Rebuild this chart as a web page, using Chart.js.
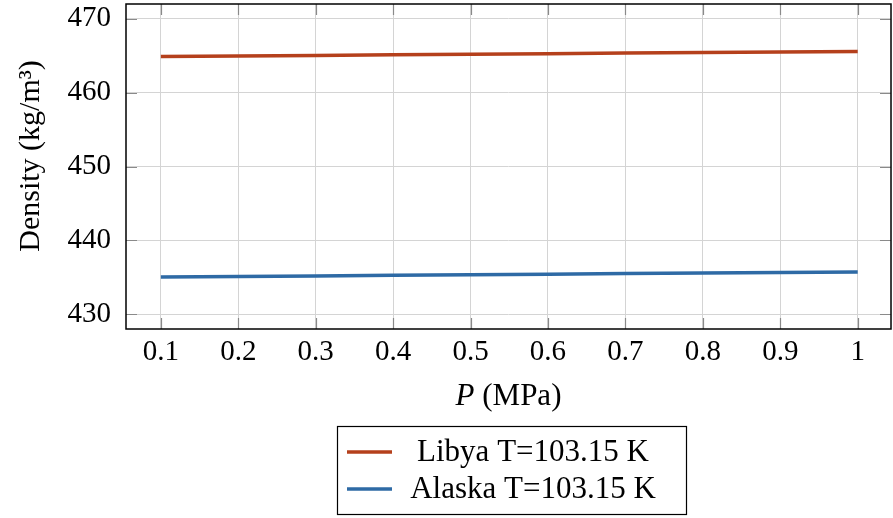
<!DOCTYPE html>
<html>
<head>
<meta charset="utf-8">
<script src="https://cdn.jsdelivr.net/npm/chart.js@4/dist/chart.umd.min.js"></script>
<style>
  html, body { margin: 0; padding: 0; background: #ffffff; }
  #wrap { width: 893px; height: 518px; }
</style>
</head>
<body>
<div id="wrap"><canvas id="densityChart" width="893" height="518"></canvas></div>
<script>
// pressure (MPa) and density readings (kg/m^3)
const pressure = [0.1, 0.2, 0.3, 0.4, 0.5, 0.6, 0.7, 0.8, 0.9, 1.0];
const libyaDensity = [464.90, 464.97, 465.04, 465.12, 465.20, 465.27, 465.35, 465.42, 465.50, 465.57];
const alaskaDensity = [435.05, 435.12, 435.19, 435.27, 435.35, 435.42, 435.50, 435.57, 435.65, 435.73];

const xTicks = [0.1, 0.2, 0.3, 0.4, 0.5, 0.6, 0.7, 0.8, 0.9, 1];
const xTickLabels = ["0.1", "0.2", "0.3", "0.4", "0.5", "0.6", "0.7", "0.8", "0.9", "1"];
const yTicks = [430, 440, 450, 460, 470];
const yTickLabels = ["430", "440", "450", "460", "470"];

const seriesNames = ["Libya T=103.15 K", "Alaska T=103.15 K"];
const seriesColors = ["#b5401c", "#2e6aa5"];

const serif = "'Liberation Serif', 'DejaVu Serif', serif";

function toPoints(xs, ys) {
    return xs.map((x, i) => ({ x: x, y: ys[i] }));
}

// frame, inward tick marks, axis titles and the boxed legend
const decorPlugin = {
    id: 'decor',
    afterDatasetsDraw(chart) {
        const ctx = chart.ctx;
        const area = chart.chartArea;
        const xs = chart.scales.x;
        const ys = chart.scales.y;
        ctx.save();

        // inward tick marks
        ctx.strokeStyle = '#8a8a8a';
        ctx.lineWidth = 1.2;
        xTicks.forEach(v => {
            const px = Math.round(xs.getPixelForValue(v)) + 0.5;
            ctx.beginPath();
            ctx.moveTo(px, area.top); ctx.lineTo(px, area.top + 11);
            ctx.moveTo(px, area.bottom); ctx.lineTo(px, area.bottom - 11);
            ctx.stroke();
        });
        yTicks.forEach(v => {
            const py = Math.round(ys.getPixelForValue(v)) + 0.5;
            ctx.beginPath();
            ctx.moveTo(area.left, py); ctx.lineTo(area.left + 11, py);
            ctx.moveTo(area.right, py); ctx.lineTo(area.right - 11, py);
            ctx.stroke();
        });

        // frame
        ctx.strokeStyle = '#000000';
        ctx.lineWidth = 1.5;
        ctx.strokeRect(area.left, area.top, area.right - area.left, area.bottom - area.top);

        // x title: italic P + (MPa)
        ctx.fillStyle = '#000000';
        ctx.textBaseline = 'alphabetic';
        const cx = (area.left + area.right) / 2;
        ctx.font = 'italic 31px ' + serif;
        const pW = ctx.measureText('P').width;
        ctx.font = '31px ' + serif;
        const restW = ctx.measureText(' (MPa)').width;
        let tx = cx - (pW + restW) / 2;
        ctx.font = 'italic 31px ' + serif;
        ctx.textAlign = 'left';
        ctx.fillText('P', tx, 405);
        ctx.font = '31px ' + serif;
        ctx.fillText(' (MPa)', tx + pW, 405);

        // y title
        ctx.save();
        ctx.translate(39, 156);
        ctx.rotate(-Math.PI / 2);
        ctx.textAlign = 'center';
        ctx.font = '30px ' + serif;
        ctx.fillText('Density (kg/m³)', 0, 0);
        ctx.restore();

        // legend box
        const lx = 337, ly = 426, lw = 349, lh = 88;
        ctx.fillStyle = '#ffffff';
        ctx.fillRect(lx, ly, lw, lh);
        ctx.strokeStyle = '#000000';
        ctx.lineWidth = 1.2;
        ctx.strokeRect(lx + 0.5, ly + 0.5, lw, lh);
        chart.data.datasets.forEach((ds, i) => {
            const rowY = 452 + i * 37;
            ctx.strokeStyle = ds.borderColor;
            ctx.lineWidth = 3.5;
            ctx.beginPath();
            ctx.moveTo(347, rowY); ctx.lineTo(392, rowY);
            ctx.stroke();
            ctx.fillStyle = '#000000';
            ctx.font = '31px ' + serif;
            ctx.textAlign = 'center';
            ctx.textBaseline = 'middle';
            ctx.fillText(ds.label, 533, rowY + 1);
        });
        ctx.restore();
    }
};

const config = {
    type: 'line',
    data: {
        datasets: [
            {
                label: seriesNames[0],
                data: toPoints(pressure, libyaDensity),
                borderColor: seriesColors[0],
                borderWidth: 3.5,
                pointRadius: 0,
                fill: false,
                tension: 0
            },
            {
                label: seriesNames[1],
                data: toPoints(pressure, alaskaDensity),
                borderColor: seriesColors[1],
                borderWidth: 3.5,
                pointRadius: 0,
                fill: false,
                tension: 0
            }
        ]
    },
    options: {
        responsive: false,
        animation: false,
        layout: { padding: { top: 4, right: 2, left: 0, bottom: 0 } },
        plugins: {
            legend: { display: false },
            tooltip: { enabled: false }
        },
        scales: {
            x: {
                type: 'linear',
                min: 0.055,
                max: 1.043,
                afterBuildTicks: scale => { scale.ticks = xTicks.map(v => ({ value: v })); },
                afterFit: scale => {
                    scale.height = 189;
                    scale.paddingLeft = 0;
                    scale.paddingRight = 0;
                },
                ticks: {
                    autoSkip: false,
                    maxRotation: 0,
                    padding: 6,
                    color: '#000000',
                    font: { family: serif, size: 29 },
                    callback: (v, i) => xTickLabels[i]
                },
                grid: { color: '#d4d4d4', lineWidth: 1, drawTicks: false },
                border: { display: false }
            },
            y: {
                min: 428,
                max: 472,
                afterBuildTicks: scale => { scale.ticks = yTicks.map(v => ({ value: v })); },
                afterFit: scale => {
                    scale.width = 126;
                    scale.paddingTop = 0;
                    scale.paddingBottom = 0;
                },
                ticks: {
                    padding: 15,
                    color: '#000000',
                    font: { family: serif, size: 29 },
                    callback: (v, i) => yTickLabels[i]
                },
                grid: { color: '#d4d4d4', lineWidth: 1, drawTicks: false },
                border: { display: false }
            }
        }
    },
    plugins: [decorPlugin]
};

new Chart(document.getElementById('densityChart'), config);
</script>
</body>
</html>
